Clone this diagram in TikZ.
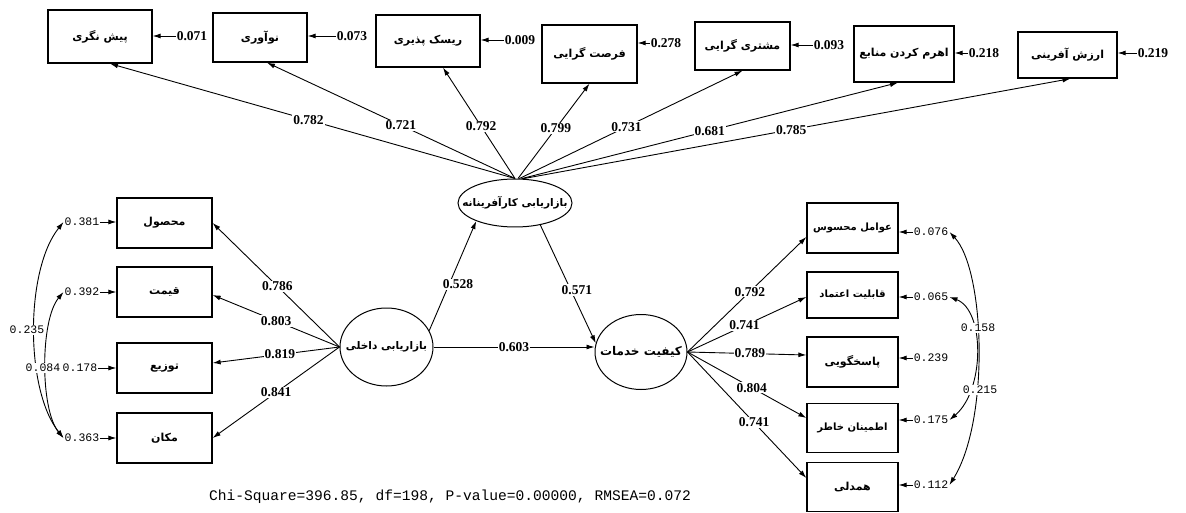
\documentclass[tikz,border=0pt]{standalone}
\usepackage{fontspec}
\setmainfont{Liberation Serif}
\newfontfamily\fafont[Script=Arabic]{DejaVu Sans}
\newfontfamily\monofont{Liberation Mono}
\TeXXeTstate=1
\usetikzlibrary{arrows.meta,shapes.geometric}
\begin{document}
\begin{tikzpicture}[x=1pt,y=-1pt,
  box/.style={draw, line width=1.3pt, rectangle, inner sep=0pt, font=\fafont\bfseries\fontsize{11}{13}\selectfont},
  smallbox/.style={box, font=\fafont\bfseries\fontsize{10}{12}\selectfont},
  lat/.style={draw, line width=1pt, ellipse, inner sep=0pt},
  lattext/.style={font=\fafont\bfseries\fontsize{10.5}{12}\selectfont},
  conn/.style={line width=0.9pt, -{Latex[length=8pt,width=5pt]}},
  cov/.style={line width=0.9pt, {Latex[length=8pt,width=5pt]}-{Latex[length=8pt,width=5pt]}},
  lab/.style={font=\bfseries\fontsize{13.5}{15}\selectfont, fill=white, inner sep=1pt},
  err/.style={font=\monofont\fontsize{11.5}{13}\selectfont, inner sep=1pt},
  errb/.style={font=\bfseries\fontsize{13.5}{15}\selectfont, inner sep=1pt},
]
\useasboundingbox (0,0) rectangle (1186,513);

% top boxes
\node[box, minimum width=104pt, minimum height=53pt] (t1) at (100,36.5) {\fafont\beginR پیش نگری\endR};
\node[box, minimum width=94pt, minimum height=49pt] (t2) at (260,37.5) {\fafont\beginR نوآوری\endR};
\node[box, minimum width=104pt, minimum height=52pt] (t3) at (428,41) {\fafont\beginR ریسک پذیری\endR};
\node[box, minimum width=95pt, minimum height=58pt] (t4) at (589.5,54) {\fafont\beginR فرصت گرایی\endR};
\node[box, minimum width=95pt, minimum height=48pt] (t5) at (742.5,46) {\fafont\beginR مشتری گرایی\endR};
\node[box, minimum width=100pt, minimum height=56pt] (t6) at (904,54) {\fafont\beginR اهرم کردن منابع\endR};
\node[box, minimum width=99pt, minimum height=46pt] (t7) at (1067.5,55) {\fafont\beginR ارزش آفرینی\endR};

\node[errb] (e1) at (192,36) {0.071};
\node[errb] (e2) at (352,36) {0.073};
\node[errb] (e3) at (520,40) {0.009};
\node[errb] (e4) at (666,43) {0.278};
\node[errb] (e5) at (829,45) {0.093};
\node[errb] (e6) at (984,53) {0.218};
\node[errb] (e7) at (1153,53) {0.219};
\foreach \i in {1,...,7}{\draw[conn] (e\i.west) -- (e\i.west -| t\i.east);}

% latent variables
\node[lat, minimum width=114pt, minimum height=48pt] (EC) at (515,203) {};
\node[lattext] (ECt) at (EC.center) {\fafont\beginR بازاریابی کارآفرینانه\endR};
\node[lat, minimum width=93pt, minimum height=78pt] (EL) at (386.5,347) {};
\node[lattext] (ELt) at (EL.center) {\fafont\beginR بازاریابی داخلی\endR};
\node[lat, minimum width=92pt, minimum height=75pt] (ER) at (641,352) {};
\node[lattext, font=\fafont\bfseries\fontsize{12}{14}\selectfont] (ERt) at (ER.center) {\fafont\beginR کیفیت خدمات\endR};

% left boxes
\node[box, minimum width=95pt, minimum height=50pt] (l1) at (164.5,223) {\fafont\beginR محصول\endR};
\node[box, minimum width=95pt, minimum height=50pt] (l2) at (164.5,292) {\fafont\beginR قیمت\endR};
\node[box, minimum width=95pt, minimum height=50pt] (l3) at (164.5,368) {\fafont\beginR توزیع\endR};
\node[box, minimum width=95pt, minimum height=50pt] (l4) at (164.5,438) {\fafont\beginR مکان\endR};

\node[err] (le1) at (82,222) {0.381};
\node[err] (le2) at (82,292) {0.392};
\node[err] (le3) at (80,368) {0.178};
\node[err] (le4) at (82,438) {0.363};
\foreach \i in {1,...,4}{\draw[conn] (le\i.east) -- (le\i.east -| l\i.west);}

% right boxes
\node[smallbox, minimum width=91pt, minimum height=50pt] (r1) at (852.5,228) {\fafont\beginR عوامل محسوس\endR};
\node[smallbox, minimum width=91pt, minimum height=46pt] (r2) at (852.5,295) {\fafont\beginR قابلیت اعتماد\endR};
\node[box, minimum width=91pt, minimum height=50pt] (r3) at (852.5,362) {\fafont\beginR پاسخگویی\endR};
\node[smallbox, minimum width=91pt, minimum height=49pt] (r4) at (852.5,428) {\fafont\beginR اطمینان خاطر\endR};
\node[box, minimum width=91pt, minimum height=49pt] (r5) at (852.5,487) {\fafont\beginR همدلی\endR};

\node[err] (re1) at (931,232) {0.076};
\node[err] (re2) at (931,297) {0.065};
\node[err] (re3) at (931,358) {0.239};
\node[err] (re4) at (931,420) {0.175};
\node[err] (re5) at (931,485) {0.112};
\foreach \i in {1,...,5}{\draw[conn] (re\i.west) -- (re\i.west -| r\i.east);}

% loadings: entrepreneurial marketing
\draw[conn] (EC.north) -- node[lab, pos=0.51] {0.782} ([xshift=10pt]t1.south);
\draw[conn] (EC.north) -- node[lab, pos=0.46] {0.721} ([xshift=7pt]t2.south);
\draw[conn] (EC.north) -- node[lab, pos=0.47] {0.792} ([xshift=15pt]t3.south);
\draw[conn] ([xshift=3pt]EC.north) -- node[lab, pos=0.53] {0.799} (t4.south);
\draw[conn] (EC.80) -- node[lab, pos=0.48] {0.731} (t5.south);
\draw[conn] (EC.75) -- node[lab, pos=0.5] {0.681} ([xshift=-6pt]t6.south);
\draw[conn] (EC.72) -- node[lab, pos=0.49] {0.785} ([xshift=3pt]t7.south);

% loadings: internal marketing
\draw[conn] (EL.west) -- node[lab, pos=0.49] {0.786} (l1.east);
\draw[conn] (EL.west) -- node[lab, pos=0.5] {0.803} ([yshift=-3pt]l2.east);
\draw[conn] (EL.west) -- node[lab, pos=0.47] {0.819} ([yshift=5pt]l3.east);
\draw[conn] (EL.west) -- node[lab, pos=0.5] {0.841} (l4.east);

% loadings: service quality
\draw[conn] (ER.east) -- node[lab, pos=0.525] {0.792} ([yshift=-9pt]r1.west);
\draw[conn] (ER.east) -- node[lab, pos=0.48] {0.741} ([yshift=-2pt]r2.west);
\draw[conn] (ER.east) -- node[lab, pos=0.525] {0.789} ([yshift=7pt]r3.west);
\draw[conn] (ER.east) -- node[lab, pos=0.54] {0.804} ([yshift=10pt]r4.west);
\draw[conn] (ER.east) -- node[lab, pos=0.56] {0.741} ([yshift=9pt]r5.west);

% structural paths
\draw[conn] (EL.21) -- node[lab, pos=0.42, xshift=9pt] {0.528} (EC.205);
\draw[conn] (EC.-41) -- node[lab, pos=0.55, xshift=6pt] {0.571} (ER.169);
\draw[conn] (EL.east) -- node[lab, pos=0.5] {0.603} (EL.east -| ER.west);

% covariances left
\draw[cov] (le1.west) .. controls (25,270) and (25,390) .. (le4.west);
\draw[cov] (le2.west) .. controls (40,320) and (40,410) .. (le4.west);
\node[err, fill=white] (c1) at (27,330) {0.235};
\node[err, fill=white] (c2) at (43,368) {0.084};

% covariances right
\draw[cov] (re1.east) .. controls (985,270) and (990,420) .. (re5.east);
\draw[cov] (re2.east) .. controls (985,310) and (985,390) .. (re4.east);
\node[err, fill=white] (c3) at (978,328) {0.158};
\node[err, fill=white] (c4) at (980,390) {0.215};

% fit statistics
\node[font=\monofont\fontsize{14.6}{16}\selectfont, inner sep=0pt] (fit) at (450,497) {Chi-Square=396.85, df=198, P-value=0.00000, RMSEA=0.072};
\end{tikzpicture}
\end{document}
